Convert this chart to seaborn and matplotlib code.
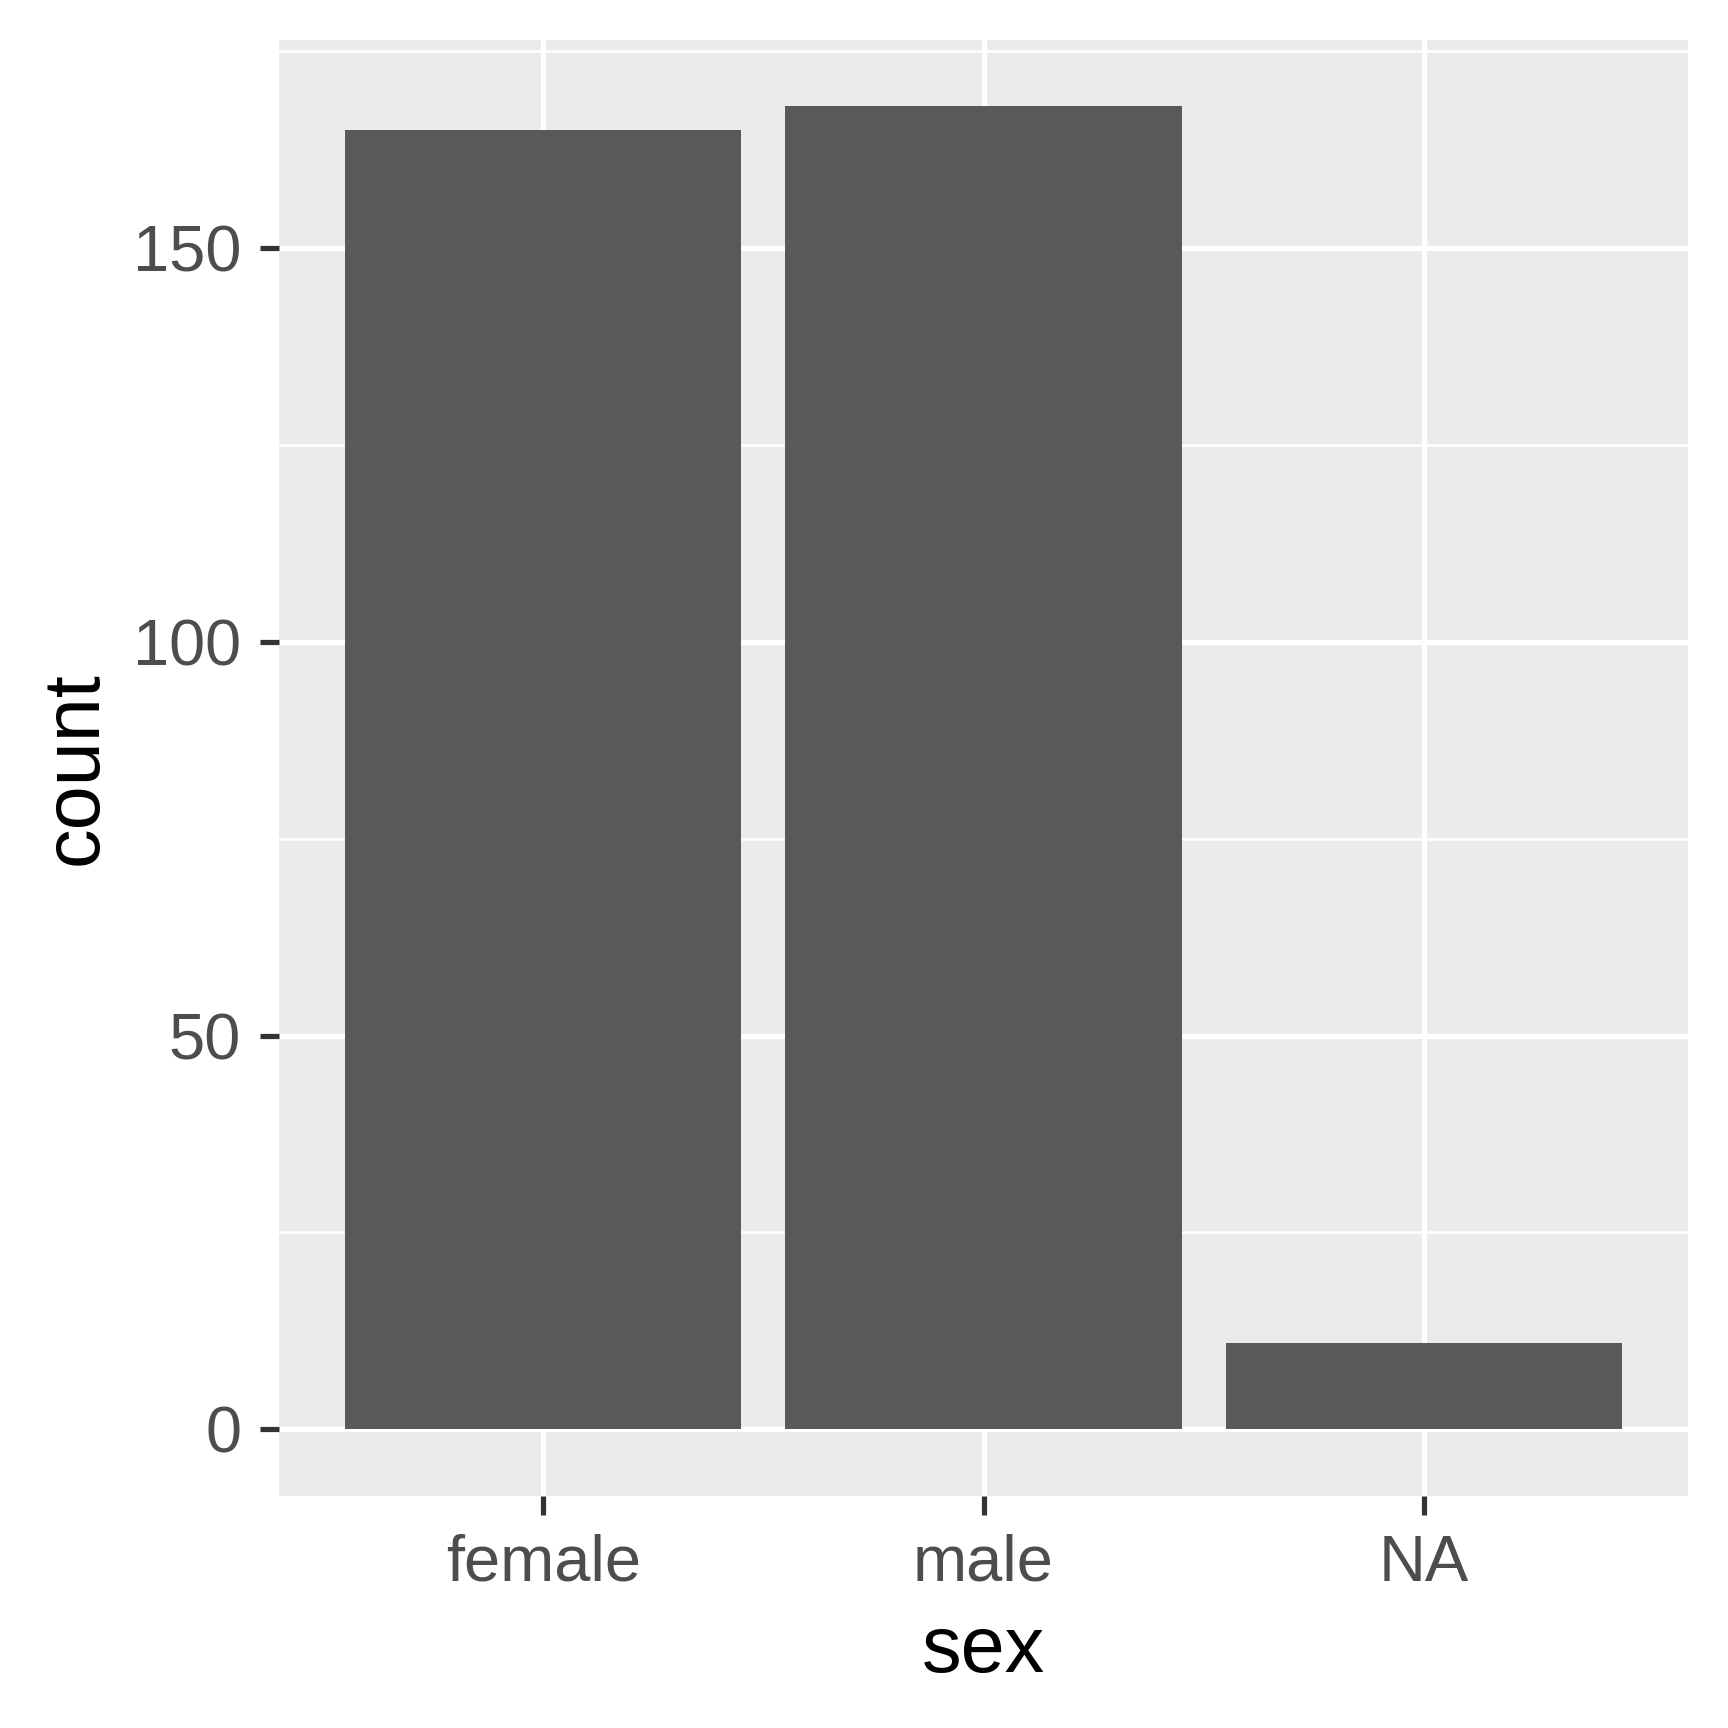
import matplotlib
matplotlib.use("Agg")
import matplotlib.pyplot as plt
import seaborn as sns
import pandas as pd
from matplotlib.ticker import MultipleLocator

categories = ["female", "male", "NA"]
counts = [165, 168, 11]

df = pd.DataFrame({"sex": categories, "count": counts})

sns.set_theme(style="darkgrid")
plt.rcParams['font.family'] = ['Liberation Sans', 'DejaVu Sans']

fig = plt.figure(figsize=(5.76, 5.76), dpi=300)
ax = fig.add_axes([0.1615, 0.1345, 0.9769 - 0.1615, 0.9769 - 0.1345])
ax.set_facecolor("#EBEBEB")
fig.patch.set_facecolor("white")

sns.barplot(data=df, x="sex", y="count", color="#595959", saturation=1,
            width=0.9, ax=ax, edgecolor="none", linewidth=0)

ax.set_xlim(-0.6, 2.6)
ax.set_ylim(-8.4, 176.4)
ax.yaxis.set_major_locator(MultipleLocator(50))
ax.yaxis.set_minor_locator(MultipleLocator(25))

ax.grid(which="major", color="white", linewidth=1.25)
ax.grid(which="minor", axis="y", color="white", linewidth=0.6)
ax.set_axisbelow(True)
for s in ax.spines.values():
    s.set_visible(False)

ax.tick_params(axis="both", which="major", length=4.6, width=1.25, color="#333333",
               labelcolor="#4D4D4D", labelsize=15.6, pad=4.5)
ax.tick_params(axis="both", which="minor", length=0)
ax.tick_params(axis="x", bottom=True)
ax.tick_params(axis="y", left=True)

ax.set_xlabel("sex", fontsize=19, color="black", labelpad=5)
ax.set_ylabel("count", fontsize=19, color="black", labelpad=4.5)

fig.savefig("out.png", dpi=300)
